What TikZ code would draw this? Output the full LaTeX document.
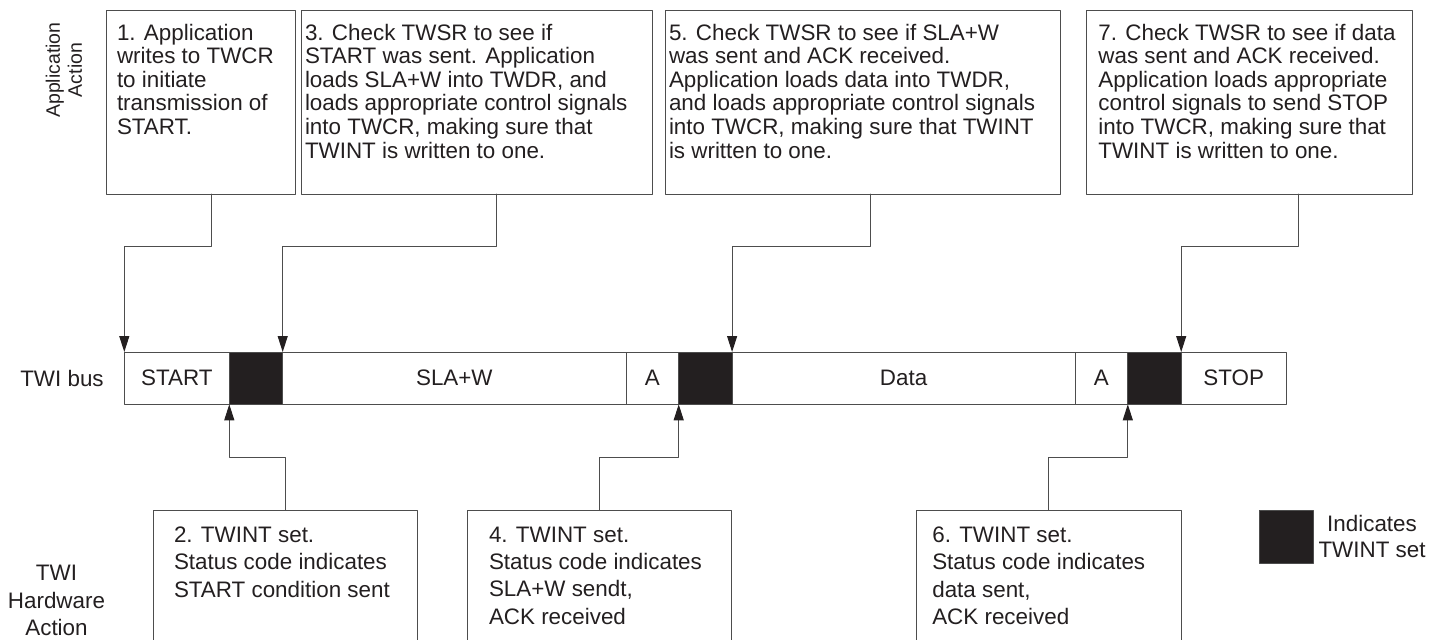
\documentclass[tikz,border=0pt]{standalone}
\usepackage{fontspec}
\setmainfont{Liberation Sans}
\usetikzlibrary{arrows.meta,positioning}

\definecolor{twiblack}{HTML}{231F20}
\definecolor{twiline}{HTML}{4D4D4D}

% text block with fixed height, set from the top
\newcommand{\cellbox}[4]{\parbox[c][#1][t]{#2}{\raggedright\vspace*{#3}#4}}

\begin{document}
\begin{tikzpicture}[
			x=1pt, y=-1pt,
			line cap=round,
			line join=round,
			font=\fontsize{22.4}{23.6}\selectfont,
			appbox/.style={draw=twiline, line width=1pt, inner ysep=0pt, outer sep=0pt, anchor=north west, text=twiblack},
			hwbox/.style={appbox, font=\fontsize{22.4}{27.3}\selectfont},
			busseg/.style={draw=twiline, line width=1pt, minimum height=52.3pt, inner sep=0pt, outer sep=0pt, text=twiblack},
			twint/.style={busseg, fill=twiblack},
			flow/.style={draw=twiline, line width=1pt, -{Triangle[length=16pt,width=10pt,color=twiblack]}}
			]
			\useasboundingbox (0,0) rectangle (1436,640);
			\clip (0,0) rectangle (1436,640);
			
			% Row labels
			\node[rotate=90, align=center, text=twiblack, font=\fontsize{19.5}{22}\selectfont] (applbl) at (64,70) {Application\\Action};
			\node[align=center, text=twiblack, font=\fontsize{22.4}{27.3}\selectfont] (hwlbl) at (56.5,600.5) {TWI\\Hardware\\Action};
			
			% Application actions
			\node[appbox, inner xsep=11pt] (s1) at (106,10)
			{\cellbox{184pt}{167pt}{13.8pt}{1. Application\\ writes to TWCR\\ to initiate\\ transmission of\\ START.}};
			\node[appbox, inner xsep=4pt] (s3) at (301,10)
			{\cellbox{184pt}{343.7pt}{13.8pt}{3. Check TWSR to see if\\ START was sent. Application\\ loads SLA+W into TWDR, and\\ loads appropriate control signals\\ into TWCR, making sure that\\ TWINT is written to one.}};
			\node[appbox, inner xsep=4pt] (s5) at (665,10)
			{\cellbox{184pt}{387.7pt}{13.8pt}{5. Check TWSR to see if SLA+W\\ was sent and ACK received.\\ Application loads data into TWDR,\\ and loads appropriate control signals\\ into TWCR, making sure that TWINT\\ is written to one.}};
			\node[appbox, inner xsep=11.7pt] (s7) at (1086.7,10)
			{\cellbox{184pt}{302.6pt}{13.8pt}{7. Check TWSR to see if data\\ was sent and ACK received.\\ Application loads appropriate\\ control signals to send STOP\\ into TWCR, making sure that\\ TWINT is written to one.}};
			
			% TWI bus
			\node[text=twiblack] (buslbl) at (62,378) {TWI bus};
			\node[busseg, minimum width=105pt, anchor=north west] (bstart) at (124.3,352) {START};
			\node[twint, minimum width=53.4pt, right=0pt of bstart] (k1) {};
			\node[busseg, minimum width=343.3pt, right=0pt of k1] (bsla) {SLA+W};
			\node[busseg, minimum width=52.7pt, right=0pt of bsla] (backa) {A};
			\node[twint, minimum width=53.4pt, right=0pt of backa] (k2) {};
			\node[busseg, minimum width=343pt, right=0pt of k2] (bdata) {Data};
			\node[busseg, minimum width=52.7pt, right=0pt of bdata] (backb) {A};
			\node[twint, minimum width=53.4pt, right=0pt of backb] (k3) {};
			\node[busseg, minimum width=105pt, right=0pt of k3] (bstop) {STOP};
			
			% TWI hardware actions
			\node[hwbox, inner xsep=20.7pt] (h2) at (153.3,510)
			{\cellbox{140pt}{222.3pt}{16.9pt}{2. TWINT set.\\ Status code indicates\\ START condition sent}};
			\node[hwbox, inner xsep=21.3pt] (h4) at (467.7,510)
			{\cellbox{140pt}{221.2pt}{16.9pt}{4. TWINT set.\\ Status code indicates\\ SLA+W sendt,\\ ACK received}};
			\node[hwbox, inner xsep=15.6pt] (h6) at (916.7,510)
			{\cellbox{140pt}{233.1pt}{16.9pt}{6. TWINT set.\\ Status code indicates\\ data sent,\\ ACK received}};
			
			% Legend
			\node[twint, minimum width=54pt, minimum height=53.3pt, anchor=north west] (legsq) at (1259.3,510) {};
			\node[align=center, text=twiblack, font=\fontsize{22.4}{26}\selectfont, right=1.7pt of legsq] (legtxt) {Indicates\\TWINT set};
			
			% Application writes down to the bus
			\draw[flow] ([xshift=105.7pt]s1.south west) -- ++(0,52.7) -| (bstart.north west);
			\draw[flow] ([xshift=195.8pt]s3.south west) -- ++(0,52.7) -| (k1.north east);
			\draw[flow] ([xshift=205pt]s5.south west) -- ++(0,52.7) -| (k2.north east);
			\draw[flow] ([xshift=211.6pt]s7.south west) -- ++(0,52.7) -| (k3.north east);
			
			% Hardware sets TWINT on the bus
			\draw[flow] ([xshift=132pt]h2.north west) -- ++(0,-52.7) -| (k1.south west);
			\draw[flow] ([xshift=131.3pt]h4.north west) -- ++(0,-52.7) -| (k2.south west);
			\draw[flow] ([xshift=131.6pt]h6.north west) -- ++(0,-52.7) -| (k3.south west);
		\end{tikzpicture}
\end{document}
